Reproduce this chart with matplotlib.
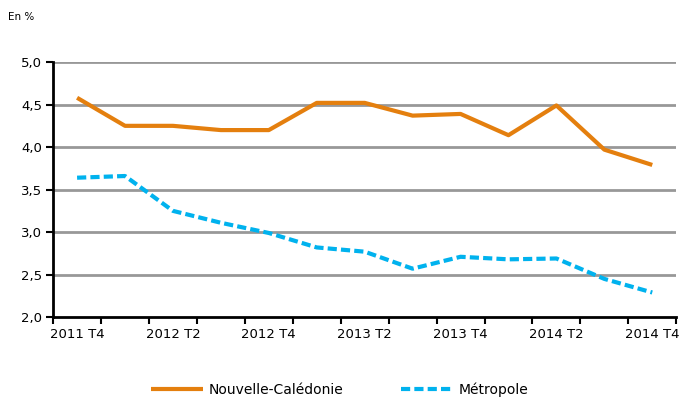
import numpy as np
import matplotlib.pyplot as plt

quarters = ['2011 T4', '2012 T1', '2012 T2', '2012 T3', '2012 T4', '2013 T1', '2013 T2',
            '2013 T3', '2013 T4', '2014 T1', '2014 T2', '2014 T3', '2014 T4']
caledonie = [4.58, 4.25, 4.25, 4.20, 4.20, 4.52, 4.52, 4.37, 4.39, 4.14, 4.49, 3.97, 3.79]
metropole = [3.64, 3.66, 3.25, 3.11, 2.99, 2.82, 2.77, 2.57, 2.71, 2.68, 2.69, 2.45, 2.29]

orange = '#E47F0E'
blue = '#00B2EE'

fig = plt.figure(figsize=(6.81, 4.03), dpi=100)
ax = fig.add_axes([0.078, 0.213, 0.915, 0.633])

x = np.arange(len(quarters))
ax.plot(x, caledonie, color=orange, lw=3, solid_capstyle='butt', label='Nouvelle-Calédonie', zorder=3)
ax.plot(x, metropole, color=blue, lw=3, dashes=(2.2, 1.0), label='Métropole', zorder=3)

ax.set_xlim(-0.5, len(quarters) - 0.5)
ax.set_ylim(2.0, 5.0)
yt = np.arange(2.0, 5.01, 0.5)
ax.set_yticks(yt)
ax.set_yticklabels([f'{v:.1f}'.replace('.', ',') for v in yt])
for v in yt[1:]:
    ax.axhline(v, color='#989898', lw=2, zorder=1)

ax.set_xticks(x[::2])
ax.set_xticklabels(quarters[::2])
ax.set_xticks(np.arange(-0.5, len(quarters)), minor=True)
ax.tick_params(axis='x', which='major', length=0, pad=8, labelsize=9.5)
ax.tick_params(axis='x', which='minor', length=5, width=1.5, direction='out')
ax.tick_params(axis='y', length=5, width=1.5, labelsize=9.5, pad=3)

for s in ['top', 'right']:
    ax.spines[s].set_visible(False)
for s in ['left', 'bottom']:
    ax.spines[s].set_linewidth(2)
    ax.spines[s].set_zorder(4)

fig.text(0.012, 0.958, 'En %', fontsize=7.5, va='center')

fig.legend(loc='center', bbox_to_anchor=(0.499, 0.032), ncol=2, frameon=False,
           fontsize=10, handlelength=3.7, handletextpad=0.45, columnspacing=4.1)

fig.savefig('out.png', dpi=100)
